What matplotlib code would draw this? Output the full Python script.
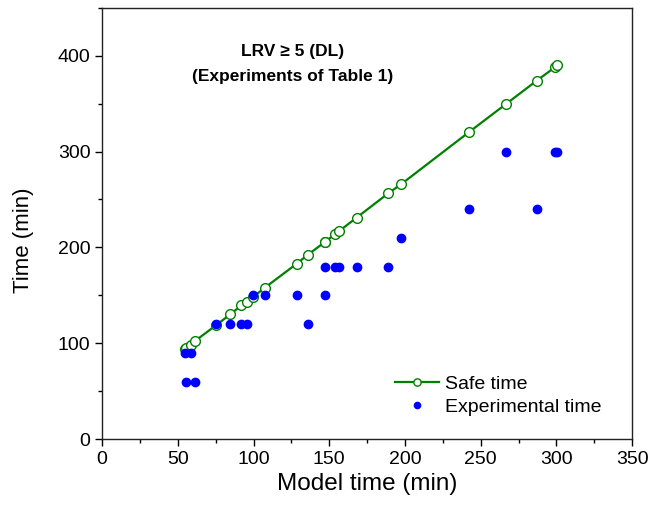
import matplotlib.pyplot as plt
from matplotlib.ticker import MultipleLocator

plt.rcParams['font.family'] = ['Liberation Sans', 'DejaVu Sans']

# model time (min) for each experiment, with safe and experimental time
model_time = [55, 55.5, 58.5, 61.5, 75, 84.5, 92, 95.5, 99.5, 107.5, 128.5, 136,
              147, 147.2, 154, 156.5, 168, 189, 197.5, 242, 267, 287, 299, 300.5]
safe_time = [94, 94.7, 98, 102.5, 118.5, 130, 139.5, 143.5, 148, 158, 183, 192.5,
             205.5, 205.8, 214, 217, 231, 256.5, 266, 320, 350, 374, 388, 390]
exp_time = [90, 60, 90, 60, 120, 120, 120, 120, 150, 150, 150, 120,
            150, 180, 180, 180, 180, 180, 210, 240, 300, 240, 300, 300]

fig = plt.figure(figsize=(6.55, 5.09), dpi=100)
ax = fig.add_axes([0.156, 0.1375, 0.809, 0.847])

ax.plot(model_time, safe_time, color='#008000', lw=1.6, marker='o', ms=7,
        mfc='white', mec='#008000', mew=1, label='Safe time')
ax.plot(model_time, exp_time, ls='none', marker='o', ms=6, color='#0000ff',
        mec='#0000ff', label='Experimental time')

ax.set_xlim(0, 350)
ax.set_ylim(0, 450)
ax.xaxis.set_major_locator(MultipleLocator(50))
ax.xaxis.set_minor_locator(MultipleLocator(25))
ax.yaxis.set_major_locator(MultipleLocator(100))
ax.yaxis.set_minor_locator(MultipleLocator(50))
ax.tick_params(which='major', direction='out', length=5, width=1, labelsize=14)
ax.tick_params(which='minor', direction='out', length=3, width=1)
for s in ax.spines.values():
    s.set_linewidth(1)
    s.set_color('#222222')

ax.set_xlabel('Model time (min)', fontsize=17.5, labelpad=4)
ax.set_ylabel('Time (min)', fontsize=16, labelpad=12)
ax.yaxis.set_label_coords(-0.128, 0.46)

ax.text(0.36, 0.87, 'LRV \u2265 5 (DL)\n(Experiments of Table 1)', transform=ax.transAxes,
        ha='center', va='center', fontsize=12.5, fontweight='bold', linespacing=1.85)

ax.legend(loc='upper left', bbox_to_anchor=(0.553, 0.148), frameon=False, fontsize=14,
          handlelength=2.25, handletextpad=0.3, labelspacing=0.3, borderpad=0,
          borderaxespad=0, markerscale=0.75)

fig.savefig('out.png', dpi=100)
